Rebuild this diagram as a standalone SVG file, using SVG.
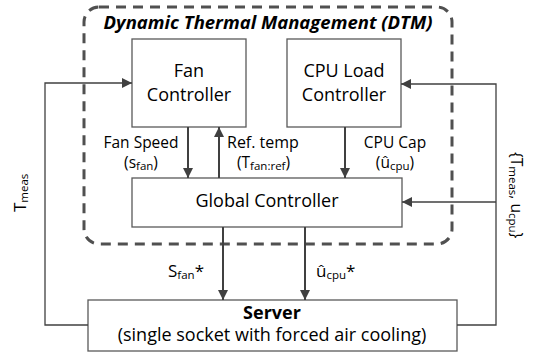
<svg xmlns="http://www.w3.org/2000/svg" width="537" height="356" viewBox="0 0 537 356">
<defs>
<marker id="ah" viewBox="0 0 10 10" refX="10" refY="5" markerWidth="10" markerHeight="10" markerUnits="userSpaceOnUse" orient="auto">
<path d="M0,0 L10,5 L0,10 z" fill="#404040"/>
</marker>
<style>
.box{fill:#fff;stroke:#595959;stroke-width:1.3}
.t{font-family:"Open Sans",sans-serif;fill:#000}
.big{font-size:18px}
.sm{font-size:15.5px}
.sub{font-size:11.5px}
.ln{fill:none;stroke:#404040;stroke-width:2}
.fb{fill:none;stroke:#404040;stroke-width:1.3}
</style>
</defs>
<g id="dtm">
<rect x="84" y="7" width="368" height="237" rx="15" ry="15" fill="none" stroke="#505050" stroke-width="3" stroke-dasharray="10,7"/>
<text class="t" x="268" y="29" text-anchor="middle" font-size="18.5" font-weight="bold" font-style="italic">Dynamic Thermal Management (DTM)</text>
</g>
<g id="fan-controller">
<rect class="box" x="132" y="39" width="114" height="88"/>
<text class="t big" x="189" y="77" text-anchor="middle">Fan</text>
<text class="t big" x="189" y="101" text-anchor="middle">Controller</text>
</g>
<g id="cpu-load-controller">
<rect class="box" x="287" y="39" width="114" height="88"/>
<text class="t big" x="344" y="77" text-anchor="middle">CPU Load</text>
<text class="t big" x="344" y="101" text-anchor="middle">Controller</text>
</g>
<g id="global-controller">
<rect class="box" x="132" y="178" width="270" height="49"/>
<text class="t big" x="267" y="207" text-anchor="middle">Global Controller</text>
</g>
<g id="server">
<rect class="box" x="88" y="300" width="369" height="51"/>
<text class="t big" x="272" y="319" text-anchor="middle" font-weight="bold">Server</text>
<text class="t big" x="272" y="341" text-anchor="middle">(single socket with forced air cooling)</text>
</g>
<g id="connectors">
<line class="ln" x1="188" y1="127" x2="188" y2="178" marker-end="url(#ah)"/>
<line class="ln" x1="219" y1="178" x2="219" y2="127" marker-end="url(#ah)"/>
<line class="ln" x1="345" y1="127" x2="345" y2="178" marker-end="url(#ah)"/>
<line class="ln" x1="223" y1="227" x2="223" y2="300" marker-end="url(#ah)"/>
<line class="ln" x1="305" y1="227" x2="305" y2="300" marker-end="url(#ah)"/>
<polyline class="fb" points="88,325 45,325 45,83 132,83" marker-end="url(#ah)"/>
<polyline class="fb" points="457,325 496,325 496,84 401,84" marker-end="url(#ah)"/>
<line class="fb" x1="496" y1="202" x2="402" y2="202" marker-end="url(#ah)"/>
</g>
<g id="labels">
<text class="t sm" x="141" y="148" text-anchor="middle">Fan Speed</text>
<text class="t sm" x="141" y="168" text-anchor="middle">(s<tspan class="sub" dy="2">fan</tspan><tspan dy="-2">)</tspan></text>
<text class="t" font-size="16" x="227" y="148">Ref. temp</text>
<text class="t sm" x="237" y="168">(T<tspan class="sub" dy="2">fan:ref</tspan><tspan dy="-2">)</tspan></text>
<text class="t sm" x="395" y="148" text-anchor="middle">CPU Cap</text>
<text class="t sm" x="395" y="168" text-anchor="middle">(û<tspan class="sub" dy="2">cpu</tspan><tspan dy="-2">)</tspan></text>
<text class="t" font-size="17" x="168" y="277">S<tspan class="sub" dy="2">fan</tspan><tspan dy="-2">*</tspan></text>
<text class="t" font-size="17" x="316" y="277">û<tspan class="sub" dy="2">cpu</tspan><tspan dy="-2">*</tspan></text>
<text class="t" font-size="17" transform="translate(26,212) rotate(-90)">T<tspan class="sub" dy="2">meas</tspan></text>
<text class="t sm" transform="translate(511,152) rotate(90)">{T<tspan class="sub" dy="2">meas</tspan><tspan dy="-2">, u</tspan><tspan class="sub" dy="2">cpu</tspan><tspan dy="-2">}</tspan></text>
</g>
</svg>
